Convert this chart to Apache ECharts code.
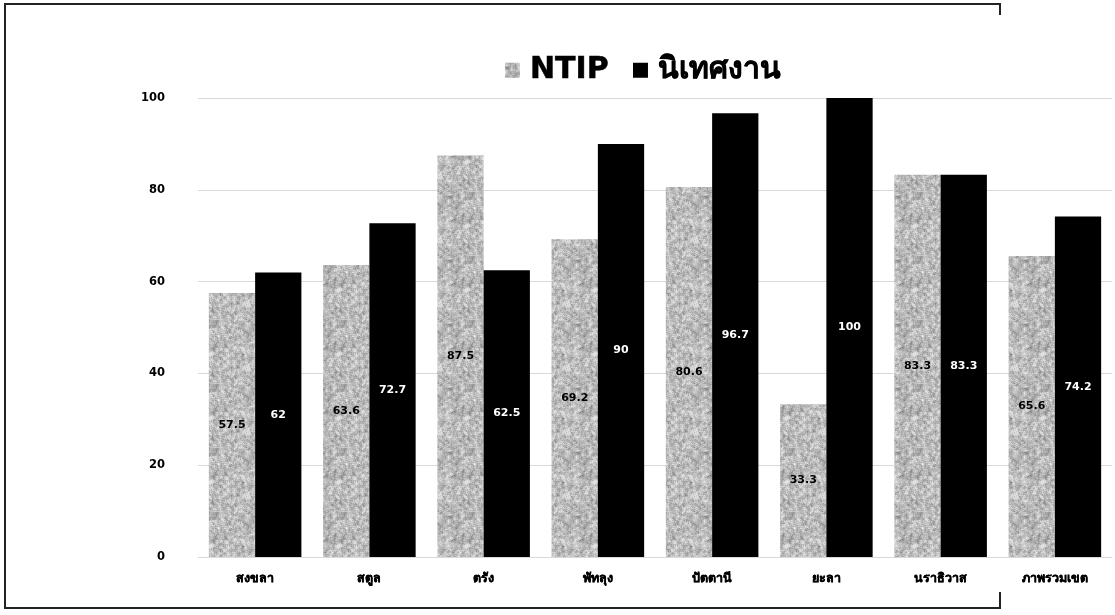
<!DOCTYPE html>
<html>
<head>
<meta charset="utf-8">
<script src="https://cdn.jsdelivr.net/npm/echarts@6/dist/echarts.min.js"></script>
<style>
  html, body { margin: 0; padding: 0; background: #fff; }
  #chart { width: 1115px; height: 615px; }
</style>
</head>
<body>
<div id="chart"></div>
<script>
// Provinces in the region, plus the regional total
const categories = ['สงขลา', 'สตูล', 'ตรัง', 'พัทลุง', 'ปัตตานี', 'ยะลา', 'นราธิวาส', 'ภาพรวมเขต'];
const ntipValues = [57.5, 63.6, 87.5, 69.2, 80.6, 33.3, 83.3, 65.6];
const supervisionValues = [62, 72.7, 62.5, 90, 96.7, 100, 83.3, 74.2];
const seriesNames = ['NTIP', 'นิเทศงาน'];
const yTicks = { min: 0, max: 100, interval: 20 };

const FONT = 'Tahoma, "DejaVu Sans", "Noto Sans", sans-serif';

// Granite-like grey fill for the NTIP bars (deterministic hash noise, lightly smoothed)
function graniteTexture() {
  const size = 64;
  const c = document.createElement('canvas');
  c.width = size; c.height = size;
  const ctx = c.getContext('2d');
  const hash = (x, y) => {
    let h = ((x % size + size) % size) * 374761393 + ((y % size + size) % size) * 668265263;
    h = (h ^ (h >>> 13)) * 1274126177;
    h = h ^ (h >>> 16);
    return (h >>> 0) / 4294967295;
  };
  const img = ctx.createImageData(size, size);
  for (let y = 0; y < size; y++) {
    for (let x = 0; x < size; x++) {
      let s = 0, n = 0;
      for (let dy = -1; dy <= 1; dy++) for (let dx = -1; dx <= 1; dx++) { s += hash(x + dx, y + dy); n++; }
      const v = s / n;
      const fine = hash(x * 7 + 3, y * 5 + 1);
      let g = 186 + (v - 0.5) * 165 + (fine - 0.5) * 30;
      g = Math.max(110, Math.min(228, g));
      const i = (y * size + x) * 4;
      img.data[i] = g; img.data[i + 1] = g; img.data[i + 2] = g; img.data[i + 3] = 255;
    }
  }
  ctx.putImageData(img, 0, 0);
  return c;
}
const granite = { image: graniteTexture(), repeat: 'repeat' };

const chart = echarts.init(document.getElementById('chart'), null, { renderer: 'canvas' });

const barLabel = (color) => ({
  show: true,
  position: 'inside',
  color: color,
  fontWeight: 'bold',
  fontSize: 11,
  fontFamily: FONT
});

chart.setOption({
  backgroundColor: '#ffffff',
  animation: false,
  legend: {
    top: 50,
    left: 500,
    itemWidth: 15,
    itemHeight: 15,
    itemGap: 24,
    icon: 'rect',
    textStyle: {
      fontSize: 30, fontWeight: 'bold', color: '#000', fontFamily: FONT,
      textBorderColor: '#000', textBorderWidth: 0.5,
      padding: [0, 0, 0, 5]
    },
    data: seriesNames
  },
  grid: { left: 198, right: 3, top: 98, bottom: 58 },
  xAxis: {
    type: 'category',
    data: categories,
    axisLine: { lineStyle: { color: '#d9d9d9', width: 1 } },
    axisTick: { show: false },
    axisLabel: {
      color: '#000', fontWeight: 'bold', fontSize: 12.5, fontFamily: FONT, margin: 15,
      textBorderColor: '#000', textBorderWidth: 0.4
    }
  },
  yAxis: {
    type: 'value',
    min: yTicks.min,
    max: yTicks.max,
    interval: yTicks.interval,
    axisLine: { show: false },
    axisTick: { show: false },
    splitLine: { lineStyle: { color: '#d9d9d9', width: 1 } },
    axisLabel: { color: '#000', fontWeight: 'bold', fontSize: 11.5, fontFamily: FONT, margin: 33 }
  },
  series: [
    {
      name: seriesNames[0],
      type: 'bar',
      data: ntipValues,
      barGap: '0%',
      barCategoryGap: '19%',
      itemStyle: { color: granite },
      label: barLabel('#000')
    },
    {
      name: seriesNames[1],
      type: 'bar',
      data: supervisionValues,
      itemStyle: { color: '#000' },
      label: barLabel('#fff')
    }
  ],
  graphic: [
    { type: 'polyline', shape: { points: [[1000, 15], [1000, 4], [5, 4], [5, 608], [1000, 608], [1000, 592]] },
      style: { stroke: '#222', lineWidth: 2, fill: null }, silent: true }
  ]
});
</script>
</body>
</html>
